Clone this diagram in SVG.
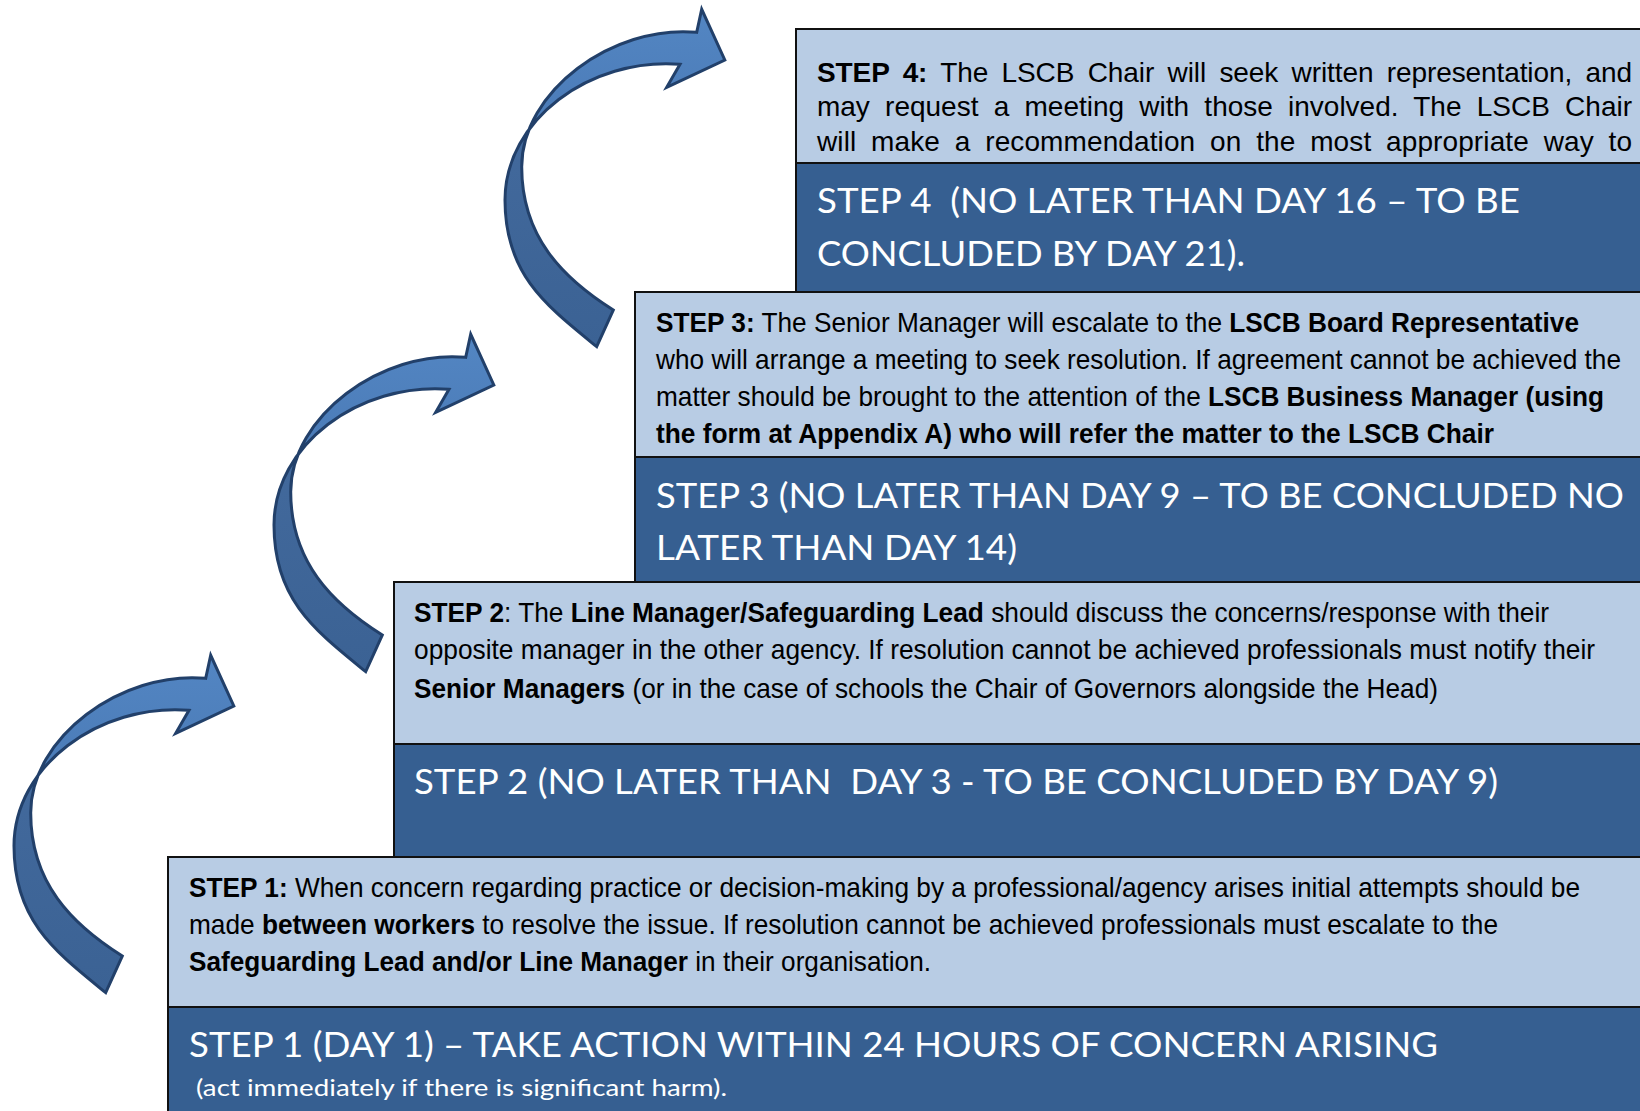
<svg xmlns="http://www.w3.org/2000/svg" xmlns:xlink="http://www.w3.org/1999/xlink" width="1640" height="1111" viewBox="0 0 1640 1111">
  <style>
    .light { fill: #B8CCE4; stroke: #111111; stroke-width: 2; }
    .dark { fill: #365F91; stroke: #111111; stroke-width: 2; }
    .body { font-family: "Liberation Sans", Arial, sans-serif; font-size: 28px; fill: #000000; }
    .b { font-weight: bold; }
    .title { font-family: Lato, "Open Sans", sans-serif; font-size: 34.5px; fill: #FFFFFF; }
    .small { font-family: Lato, "Open Sans", sans-serif; font-size: 24px; fill: #FFFFFF; }
    .arrow { fill: url(#arrowFill); stroke: #22406A; stroke-width: 3; stroke-linejoin: miter; }
  </style>
  <defs>
    <linearGradient id="arrowFill" gradientUnits="userSpaceOnUse" x1="0" y1="9" x2="0" y2="347">
      <stop offset="0" stop-color="#5386C3"/>
      <stop offset="0.378" stop-color="#4A7AB6"/>
      <stop offset="0.378" stop-color="#42699C"/>
      <stop offset="1" stop-color="#3B6294"/>
    </linearGradient>
    <path id="curvedArrow" class="arrow" d="M 596.7,346.7 C 546.4,305.6 505,275 505,200 C 505,120 590,57.3 680,64.3 L 666.7,87.3 L 724.8,60 L 701.7,9.3 L 696.7,32.3 C 612,24.6 521.7,91.7 521.7,166.7 C 521.7,236.7 562.5,278 613.3,310 Z"/>
  </defs>

  <rect x="0" y="0" width="1640" height="1111" fill="#FFFFFF"/>

  <g id="step4">
    <rect class="light" x="796" y="29" width="870" height="134"/>
    <rect class="dark" x="796" y="163" width="870" height="129"/>
    <text class="body" x="817" y="81.5" word-spacing="5.7" textLength="815" lengthAdjust="spacing"><tspan class="b">STEP 4:</tspan> The LSCB Chair will seek written representation, and</text>
    <text class="body" x="817" y="116" word-spacing="7.5" textLength="815" lengthAdjust="spacing">may request a meeting with those involved. The LSCB Chair</text>
    <text class="body" x="817" y="150.5" word-spacing="6.9" textLength="815" lengthAdjust="spacing">will make a recommendation on the most appropriate way to</text>
    <text class="title" x="817" y="213" textLength="703" lengthAdjust="spacingAndGlyphs">STEP 4&#160; (NO LATER THAN DAY 16 – TO BE</text>
    <text class="title" x="817" y="266" textLength="428" lengthAdjust="spacingAndGlyphs">CONCLUDED BY DAY 21).</text>
  </g>

  <g id="step3">
    <rect class="light" x="635" y="292" width="1030" height="165"/>
    <rect class="dark" x="635" y="457" width="1030" height="125"/>
    <text class="body" x="656" y="331.5" textLength="923" lengthAdjust="spacingAndGlyphs"><tspan class="b">STEP 3:</tspan> The Senior Manager will escalate to the <tspan class="b">LSCB Board Representative</tspan></text>
    <text class="body" x="656" y="369" textLength="965" lengthAdjust="spacingAndGlyphs">who will arrange a meeting to seek resolution. If agreement cannot be achieved the</text>
    <text class="body" x="656" y="406" textLength="948" lengthAdjust="spacingAndGlyphs">matter should be brought to the attention of the <tspan class="b">LSCB Business Manager (using</tspan></text>
    <text class="body b" x="656" y="442.5" textLength="838" lengthAdjust="spacingAndGlyphs">the form at Appendix A) who will refer the matter to the LSCB Chair</text>
    <text class="title" x="656" y="508" textLength="968" lengthAdjust="spacingAndGlyphs">STEP 3 (NO LATER THAN DAY 9 – TO BE CONCLUDED NO</text>
    <text class="title" x="656" y="560" textLength="361" lengthAdjust="spacingAndGlyphs">LATER THAN DAY 14)</text>
  </g>

  <g id="step2">
    <rect class="light" x="394" y="582" width="1270" height="162"/>
    <rect class="dark" x="394" y="744" width="1270" height="113"/>
    <text class="body" x="414" y="622" textLength="1135" lengthAdjust="spacingAndGlyphs"><tspan class="b">STEP 2</tspan>: The <tspan class="b">Line Manager/Safeguarding Lead</tspan> should discuss the concerns/response with their</text>
    <text class="body" x="414" y="659" textLength="1181" lengthAdjust="spacingAndGlyphs">opposite manager in the other agency. If resolution cannot be achieved professionals must notify their</text>
    <text class="body" x="414" y="697.5" textLength="1024" lengthAdjust="spacingAndGlyphs"><tspan class="b">Senior Managers</tspan> (or in the case of schools the Chair of Governors alongside the Head)</text>
    <text class="title" x="414" y="794" textLength="1084" lengthAdjust="spacingAndGlyphs">STEP 2 (NO LATER THAN&#160; DAY 3 - TO BE CONCLUDED BY DAY 9)</text>
  </g>

  <g id="step1">
    <rect class="light" x="168" y="857" width="1500" height="150"/>
    <rect class="dark" x="168" y="1007" width="1500" height="110"/>
    <text class="body" x="189" y="897" textLength="1391" lengthAdjust="spacingAndGlyphs"><tspan class="b">STEP 1:</tspan> When concern regarding practice or decision-making by a professional/agency arises initial attempts should be</text>
    <text class="body" x="189" y="934" textLength="1309" lengthAdjust="spacingAndGlyphs">made <tspan class="b">between workers</tspan> to resolve the issue. If resolution cannot be achieved professionals must escalate to the</text>
    <text class="body" x="189" y="970.5" textLength="742" lengthAdjust="spacingAndGlyphs"><tspan class="b">Safeguarding Lead and/or Line Manager</tspan> in their organisation.</text>
    <text class="title" x="189" y="1057" textLength="1249" lengthAdjust="spacingAndGlyphs">STEP 1 (DAY 1) – TAKE ACTION WITHIN 24 HOURS OF CONCERN ARISING</text>
    <text class="small" x="196" y="1096" textLength="531" lengthAdjust="spacingAndGlyphs">(act immediately if there is significant harm).</text>
  </g>

  <g id="connectors">
    <use xlink:href="#curvedArrow" href="#curvedArrow"/>
    <use xlink:href="#curvedArrow" href="#curvedArrow" transform="translate(-231,325)"/>
    <use xlink:href="#curvedArrow" href="#curvedArrow" transform="translate(-491,646)"/>
  </g>
</svg>
